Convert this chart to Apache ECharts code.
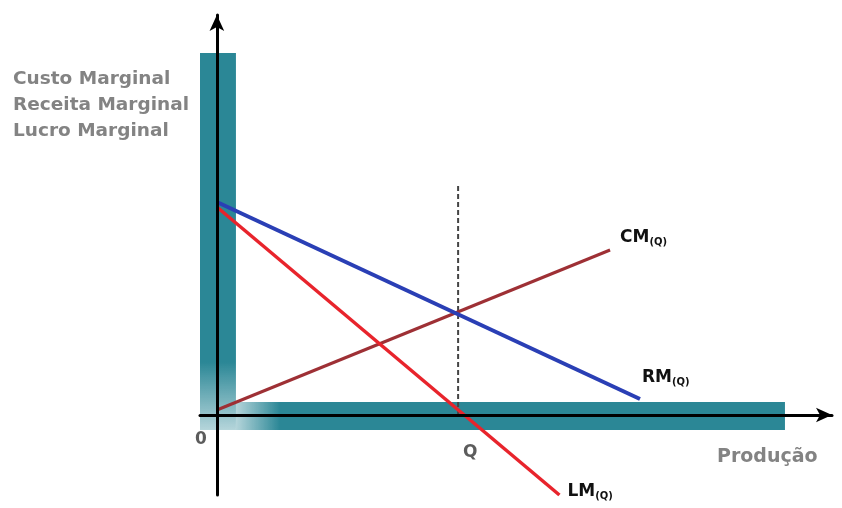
<!DOCTYPE html>
<html>
<head>
<meta charset="utf-8">
<script src="https://cdn.jsdelivr.net/npm/echarts@6/dist/echarts.min.js"></script>
<style>html,body{margin:0;padding:0;background:#fff}#c{width:842px;height:508px}</style>
</head>
<body>
<div id="c"></div>
<script>
// Conceptual data (x = Produção, y = marginal values)
const rmLine = [[0, 10.65], [17.54, 0.8]];   // Receita Marginal
const lmLine = [[0, 10.4], [14.2, -4.0]];     // Lucro Marginal
const cmLine = [[0, 0.25], [16.3, 8.25]];     // Custo Marginal
const qValue = 10;
const qLine = [[qValue, 0], [qValue, 11.6]];
const pointLabels = [[0, 0, '0'], [qValue, 0, 'Q']];
const yTitleLines = ['Custo Marginal', 'Receita Marginal', 'Lucro Marginal'];
const xTitle = 'Produção';
const seriesNames = ['RM', 'LM', 'CM'];

const FONT = 'DejaVu Sans';
const teal = '#2b8796';
const chart = echarts.init(document.getElementById('c'));

function subLabel(name, dx, dy) {
  return {
    show: true, formatter: '{a|' + name + '}{b|(Q)}', offset: [dx, dy],
    rich: {
      a: {fontFamily: FONT, fontWeight: 'bold', fontSize: 17, color: '#111'},
      b: {fontFamily: FONT, fontWeight: 'bold', fontSize: 10, color: '#111', verticalAlign: 'bottom', padding: [9, 0, 0, 0]}
    }
  };
}

chart.setOption({
  animation: false,
  grid: {left: 200, right: 10, top: 15, bottom: 13},
  xAxis: {
    type: 'value', min: -0.7, max: 25.5, z: 10,
    axisLine: {show: true, onZero: true, symbol: ['none', 'arrow'], symbolSize: [11, 16], lineStyle: {color: '#000', width: 3}},
    axisTick: {show: false}, axisLabel: {show: false}, splitLine: {show: false}
  },
  yAxis: {
    type: 'value', min: -4, max: 20, z: 10,
    axisLine: {show: true, onZero: true, symbol: ['none', 'arrow'], symbolSize: [11, 16], lineStyle: {color: '#000', width: 3}},
    axisTick: {show: false}, axisLabel: {show: false}, splitLine: {show: false}
  },
  graphic: [{
    type: 'text', right: 842 - 189, top: 66, z: 10,
    style: {text: yTitleLines.join('\n'), font: 'bold 18.5px "DejaVu Sans"', fill: '#838383', align: 'right', lineHeight: 26}
  }, {
    type: 'text', left: 717, top: 448, z: 10,
    style: {text: xTitle, font: 'bold 19px "DejaVu Sans"', fill: '#838383'}
  }],
  series: [
    {
      type: 'line', data: [], silent: true, z: 0,
      markArea: {
        silent: true,
        data: [
          [{coord: [-0.7, -0.75], itemStyle: {color: new echarts.graphic.LinearGradient(0, 0, 0, 1, [
            {offset: 0, color: teal}, {offset: 0.82, color: teal}, {offset: 1, color: 'rgba(43,135,150,0.35)'}])}},
           {coord: [0.79, 18.1]}],
          [{coord: [0.79, -0.75], itemStyle: {color: new echarts.graphic.LinearGradient(0, 0, 1, 0, [
            {offset: 0, color: 'rgba(43,135,150,0.35)'}, {offset: 0.08, color: teal}, {offset: 1, color: teal}])}},
           {coord: [23.55, 0.65]}]
        ]
      }
    },
    {
      name: 'Q', type: 'line', data: qLine, symbol: 'none', z: 3,
      lineStyle: {color: '#444', width: 2, type: [5, 3]}
    },
    {
      name: seriesNames[2], type: 'line', data: cmLine, symbol: 'none', z: 4,
      lineStyle: {color: '#9e3035', width: 3},
      endLabel: subLabel(seriesNames[2], 2, -12)
    },
    {
      name: seriesNames[0], type: 'line', data: rmLine, symbol: 'none', z: 5,
      lineStyle: {color: '#2a3fb5', width: 4},
      endLabel: subLabel(seriesNames[0], -6, -21)
    },
    {
      name: seriesNames[1], type: 'line', data: lmLine, symbol: 'none', z: 5,
      lineStyle: {color: '#e8242c', width: 3.5},
      endLabel: subLabel(seriesNames[1], 0, -3)
    },
    {
      type: 'scatter', symbolSize: 0, z: 12,
      data: [
        {value: pointLabels[0], label: {offset: [-16, 10]}},
        {value: pointLabels[1], label: {offset: [12, 23]}}
      ],
      label: {
        show: true, position: 'bottom', distance: 6,
        formatter: p => p.data.value[2],
        fontFamily: FONT, fontWeight: 'bold', fontSize: 17, color: '#333'
      }
    }
  ]
});
</script>
</body>
</html>
